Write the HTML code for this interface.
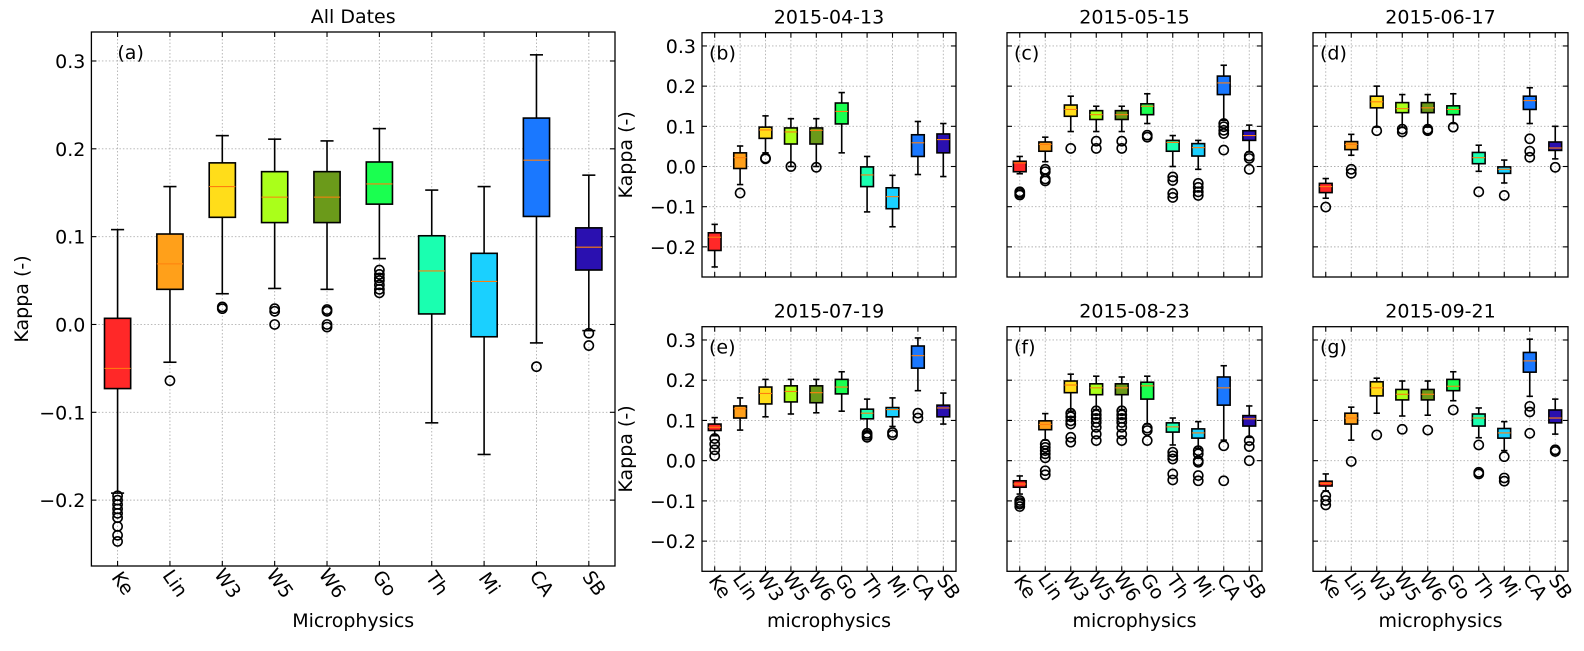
<!DOCTYPE html>
<html><head><meta charset="utf-8"><style>
html,body{margin:0;padding:0;background:#fff;}
svg text{font-family:"DejaVu Sans","Liberation Sans",sans-serif;fill:#000;}
</style></head>
<body>
<svg id="fig" width="1584" height="646" viewBox="0 0 1584 646" xmlns="http://www.w3.org/2000/svg"></svg>
<script>
const categories=["Ke","Lin","W3","W5","W6","Go","Th","Mi","CA","SB"];
const colors=["#ff2828","#ffa01a","#ffdd1a","#aaff1a","#6b9a1a","#1aff50","#1affb0","#1ad0ff","#1a78ff","#2a10b0"];
const yTicks=[-0.2,-0.1,0.0,0.1,0.2,0.3];
const yTickLabels=["\u22120.2","\u22120.1","0.0","0.1","0.2","0.3"];

const A_hi=[0.108,0.157,0.215,0.211,0.209,0.223,0.153,0.157,0.307,0.170];
const A_q3=[0.007,0.103,0.184,0.174,0.174,0.185,0.101,0.081,0.235,0.110];
const A_med=[-0.050,0.069,0.157,0.145,0.145,0.160,0.061,0.049,0.187,0.088];
const A_q1=[-0.073,0.040,0.122,0.116,0.116,0.137,0.012,-0.014,0.123,0.062];
const A_lo=[-0.192,-0.043,0.035,0.041,0.040,0.075,-0.112,-0.148,-0.021,-0.007];
const A_fl=[[-0.195,-0.2,-0.205,-0.21,-0.215,-0.22,-0.23,-0.24,-0.247],[-0.064],[0.020,0.018],[0.018,0.015,0.0],[0.017,0.015,0.0,-0.003],[0.062,0.057,0.053,0.05,0.045,0.04,0.036],[],[],[-0.048],[-0.01,-0.024]];

const B_hi=[-0.144,0.051,0.126,0.119,0.119,0.184,0.025,-0.022,0.112,0.107];
const B_q3=[-0.165,0.034,0.098,0.096,0.096,0.158,-0.001,-0.053,0.079,0.081];
const B_med=[-0.176,0.022,0.091,0.086,0.090,0.137,-0.021,-0.075,0.059,0.067];
const B_q1=[-0.209,-0.005,0.070,0.056,0.056,0.106,-0.050,-0.105,0.025,0.034];
const B_lo=[-0.250,-0.045,0.034,0.0,0.0,0.034,-0.113,-0.150,-0.020,-0.025];
const B_fl=[[],[-0.066],[0.019,0.021],[0.0],[-0.002],[],[],[],[],[]];

const C_hi=[0.025,0.073,0.175,0.150,0.150,0.181,0.077,0.065,0.252,0.103];
const C_q3=[0.013,0.061,0.153,0.139,0.139,0.156,0.065,0.057,0.225,0.089];
const C_med=[0.009,0.055,0.142,0.129,0.129,0.150,0.060,0.047,0.208,0.077];
const C_q1=[-0.013,0.038,0.125,0.117,0.117,0.129,0.038,0.026,0.179,0.065];
const C_lo=[-0.018,0.012,0.087,0.087,0.087,0.107,0.0,-0.007,0.115,0.036];
const C_fl=[[-0.063,-0.067,-0.071],[-0.007,-0.013,-0.031,-0.036],[0.045],[0.063,0.045],[0.063,0.045],[0.078,0.073],[-0.026,-0.035,-0.067,-0.077],[-0.042,-0.052,-0.063,-0.072],[0.107,0.099,0.09,0.082,0.041],[0.026,0.02,-0.007]];

const D_hi=[-0.030,0.080,0.200,0.179,0.179,0.181,0.053,0.016,0.196,0.100];
const D_q3=[-0.042,0.062,0.175,0.159,0.159,0.151,0.035,-0.001,0.175,0.061];
const D_med=[-0.050,0.055,0.161,0.144,0.146,0.142,0.022,-0.007,0.164,0.046];
const D_q1=[-0.065,0.042,0.146,0.134,0.134,0.129,0.007,-0.017,0.142,0.040];
const D_lo=[-0.079,0.028,0.098,0.098,0.098,0.107,-0.012,-0.041,0.107,0.019];
const D_fl=[[-0.101],[-0.007,-0.017],[0.089],[0.093,0.086],[0.093,0.089],[0.098],[-0.063],[-0.072],[0.069,0.038,0.023],[-0.002]];

const E_hi=[0.107,0.156,0.202,0.202,0.202,0.221,0.153,0.156,0.305,0.168];
const E_q3=[0.091,0.136,0.183,0.186,0.186,0.202,0.128,0.132,0.285,0.138];
const E_med=[0.083,0.129,0.167,0.172,0.169,0.183,0.118,0.127,0.261,0.131];
const E_q1=[0.075,0.106,0.141,0.146,0.144,0.166,0.104,0.109,0.230,0.109];
const E_lo=[0.062,0.076,0.109,0.116,0.119,0.123,0.072,0.085,0.174,0.091];
const E_fl=[[0.055,0.041,0.027,0.012],[],[],[],[],[],[0.068,0.063,0.058],[0.070,0.064],[0.118,0.106],[]];

const F_hi=[-0.038,0.117,0.215,0.210,0.208,0.210,0.106,0.097,0.236,0.136];
const F_q3=[-0.050,0.099,0.198,0.191,0.191,0.195,0.094,0.079,0.208,0.112];
const F_med=[-0.058,0.090,0.188,0.181,0.181,0.186,0.084,0.069,0.181,0.104];
const F_q1=[-0.066,0.077,0.169,0.164,0.164,0.153,0.071,0.056,0.138,0.086];
const F_lo=[-0.083,0.051,0.123,0.127,0.127,0.091,0.039,0.031,0.051,0.058];
const F_fl=[[-0.099,-0.104,-0.108,-0.114],[0.041,0.033,0.025,0.017,0.007,-0.025,-0.035],[0.118,0.109,0.099,0.091,0.058,0.046],[0.124,0.114,0.105,0.095,0.083,0.066,0.05],[0.124,0.114,0.105,0.095,0.083,0.066,0.05],[0.081,0.075,0.05],[0.021,0.012,0.004,-0.033,-0.048],[0.025,0.017,0.0,-0.004,-0.037,-0.05],[0.037,-0.05],[0.05,0.035,0.0]];

const G_hi=[-0.033,0.133,0.205,0.198,0.198,0.221,0.131,0.097,0.302,0.153];
const G_q3=[-0.051,0.118,0.196,0.177,0.177,0.202,0.116,0.080,0.269,0.126];
const G_med=[-0.056,0.106,0.181,0.165,0.165,0.185,0.106,0.069,0.248,0.106];
const G_q1=[-0.063,0.091,0.161,0.151,0.151,0.174,0.086,0.056,0.220,0.094];
const G_lo=[-0.075,0.051,0.118,0.111,0.113,0.149,0.057,0.025,0.160,0.066];
const G_fl=[[-0.087,-0.099,-0.110],[-0.002],[0.064],[0.078],[0.076],[0.126],[0.039,-0.029,-0.033],[0.01,-0.043,-0.051],[0.135,0.121,0.068],[0.027,0.023]];

const NS="http://www.w3.org/2000/svg";
const svg=document.getElementById('fig');
function mk(tag,attrs,parent){const e=document.createElementNS(NS,tag);for(const k in attrs)e.setAttribute(k,attrs[k]);(parent||svg).appendChild(e);return e;}

const Y0=-0.275,Y1=0.333;
const FS=19;
function drawPanel(p){
  const g=mk('g',{});
  
  
  const xs=i=>p.x0+(i+0.5)*(p.x1-p.x0)/10;
  const ys=v=>p.y1-(v-Y0)/(Y1-Y0)*(p.y1-p.y0);
  const unit=(p.x1-p.x0)/10;
  yTicks.forEach(v=>{const l=mk('line',{x1:p.x0,x2:p.x1,y1:ys(v),y2:ys(v),stroke:'#b0b0b0','stroke-width':0.9,'stroke-dasharray':'1.5,2'},g);
    });
  categories.forEach((c,i)=>{const l=mk('line',{x1:xs(i),x2:xs(i),y1:p.y0,y2:p.y1,stroke:'#b0b0b0','stroke-width':0.9,'stroke-dasharray':'1.5,2'},g);
    });
  categories.forEach((c,i)=>{
    const bg=mk('g',{},g);
    
    
    const cx=xs(i),bw=unit*0.5,cw=bw*0.5;
    mk('line',{x1:cx,x2:cx,y1:ys(p.hi[i]),y2:ys(p.q3[i]),stroke:'#000','stroke-width':1.6},bg);
    mk('line',{x1:cx,x2:cx,y1:ys(p.q1[i]),y2:ys(p.lo[i]),stroke:'#000','stroke-width':1.6},bg);
    mk('line',{x1:cx-cw/2,x2:cx+cw/2,y1:ys(p.hi[i]),y2:ys(p.hi[i]),stroke:'#000','stroke-width':1.6},bg);
    mk('line',{x1:cx-cw/2,x2:cx+cw/2,y1:ys(p.lo[i]),y2:ys(p.lo[i]),stroke:'#000','stroke-width':1.6},bg);
    mk('rect',{x:cx-bw/2,y:ys(p.q3[i]),width:bw,height:Math.max(1,ys(p.q1[i])-ys(p.q3[i])),fill:colors[i],stroke:'#000','stroke-width':1.6},bg);
    mk('line',{x1:cx-bw/2,x2:cx+bw/2,y1:ys(p.med[i]),y2:ys(p.med[i]),stroke:'#ff7f0e','stroke-width':1.1},bg);
    p.fl[i].forEach(v=>{mk('circle',{cx:cx,cy:ys(v),r:4.6,fill:'none',stroke:'#000','stroke-width':1.6},bg);});
  });
  yTicks.forEach(v=>{mk('line',{x1:p.x0,x2:p.x0+5,y1:ys(v),y2:ys(v),stroke:'#000','stroke-width':1.1},g);
    mk('line',{x1:p.x1,x2:p.x1-5,y1:ys(v),y2:ys(v),stroke:'#000','stroke-width':1.1},g);});
  categories.forEach((c,i)=>{mk('line',{x1:xs(i),x2:xs(i),y1:p.y1,y2:p.y1-5,stroke:'#000','stroke-width':1.1},g);
    mk('line',{x1:xs(i),x2:xs(i),y1:p.y0,y2:p.y0+5,stroke:'#000','stroke-width':1.1},g);});
  const fr=mk('rect',{x:p.x0,y:p.y0,width:p.x1-p.x0,height:p.y1-p.y0,fill:'none',stroke:'#000','stroke-width':1.3},g);
  
  const t=mk('text',{x:(p.x0+p.x1)/2,y:p.y0-9,'text-anchor':'middle','font-size':FS},g);t.textContent=p.title;
  
  const pl=mk('text',{x:p.x0+(p.main?26:7),y:p.y0+27,'font-size':FS},g);pl.textContent='('+p.id+')';
  
  if(p.yt){
    yTicks.forEach((v,k)=>{const tt=mk('text',{x:p.x0-6,y:ys(v)+7,'text-anchor':'end','font-size':FS},g);tt.textContent=yTickLabels[k];
      });
    const lx=p.main?28:632,ly=(p.y0+p.y1)/2;
    const yl=mk('text',{x:lx,y:ly,'text-anchor':'middle','font-size':FS,transform:'rotate(-90 '+lx+' '+ly+')'},g);yl.textContent='Kappa (-)';
    
  }
  if(p.xt){
    categories.forEach((c,i)=>{const x=xs(i),y=p.y1+(p.main?21:19);
      const tt=mk('text',{x:x,y:y,'text-anchor':'middle','font-size':FS,transform:'rotate(55 '+x+' '+y+')'},g);tt.textContent=c;
      });
    const xl=mk('text',{x:(p.x0+p.x1)/2,y:627,'text-anchor':'middle','font-size':FS},g);xl.textContent=p.main?'Microphysics':'microphysics';
    
  }
}
const cols=[[702,956],[1007,1262],[1313,1568]];
const r1=[32.7,277],r2=[326.7,571.3];
drawPanel({id:'a',title:'All Dates',main:true,x0:91.4,x1:615,y0:32,y1:566,yt:true,xt:true,hi:A_hi,q3:A_q3,med:A_med,q1:A_q1,lo:A_lo,fl:A_fl});
drawPanel({id:'b',title:'2015-04-13',x0:cols[0][0],x1:cols[0][1],y0:r1[0],y1:r1[1],yt:true,xt:false,hi:B_hi,q3:B_q3,med:B_med,q1:B_q1,lo:B_lo,fl:B_fl});
drawPanel({id:'c',title:'2015-05-15',x0:cols[1][0],x1:cols[1][1],y0:r1[0],y1:r1[1],yt:false,xt:false,hi:C_hi,q3:C_q3,med:C_med,q1:C_q1,lo:C_lo,fl:C_fl});
drawPanel({id:'d',title:'2015-06-17',x0:cols[2][0],x1:cols[2][1],y0:r1[0],y1:r1[1],yt:false,xt:false,hi:D_hi,q3:D_q3,med:D_med,q1:D_q1,lo:D_lo,fl:D_fl});
drawPanel({id:'e',title:'2015-07-19',x0:cols[0][0],x1:cols[0][1],y0:r2[0],y1:r2[1],yt:true,xt:true,hi:E_hi,q3:E_q3,med:E_med,q1:E_q1,lo:E_lo,fl:E_fl});
drawPanel({id:'f',title:'2015-08-23',x0:cols[1][0],x1:cols[1][1],y0:r2[0],y1:r2[1],yt:false,xt:true,hi:F_hi,q3:F_q3,med:F_med,q1:F_q1,lo:F_lo,fl:F_fl});
drawPanel({id:'g',title:'2015-09-21',x0:cols[2][0],x1:cols[2][1],y0:r2[0],y1:r2[1],yt:false,xt:true,hi:G_hi,q3:G_q3,med:G_med,q1:G_q1,lo:G_lo,fl:G_fl});
</script>
</body></html>
